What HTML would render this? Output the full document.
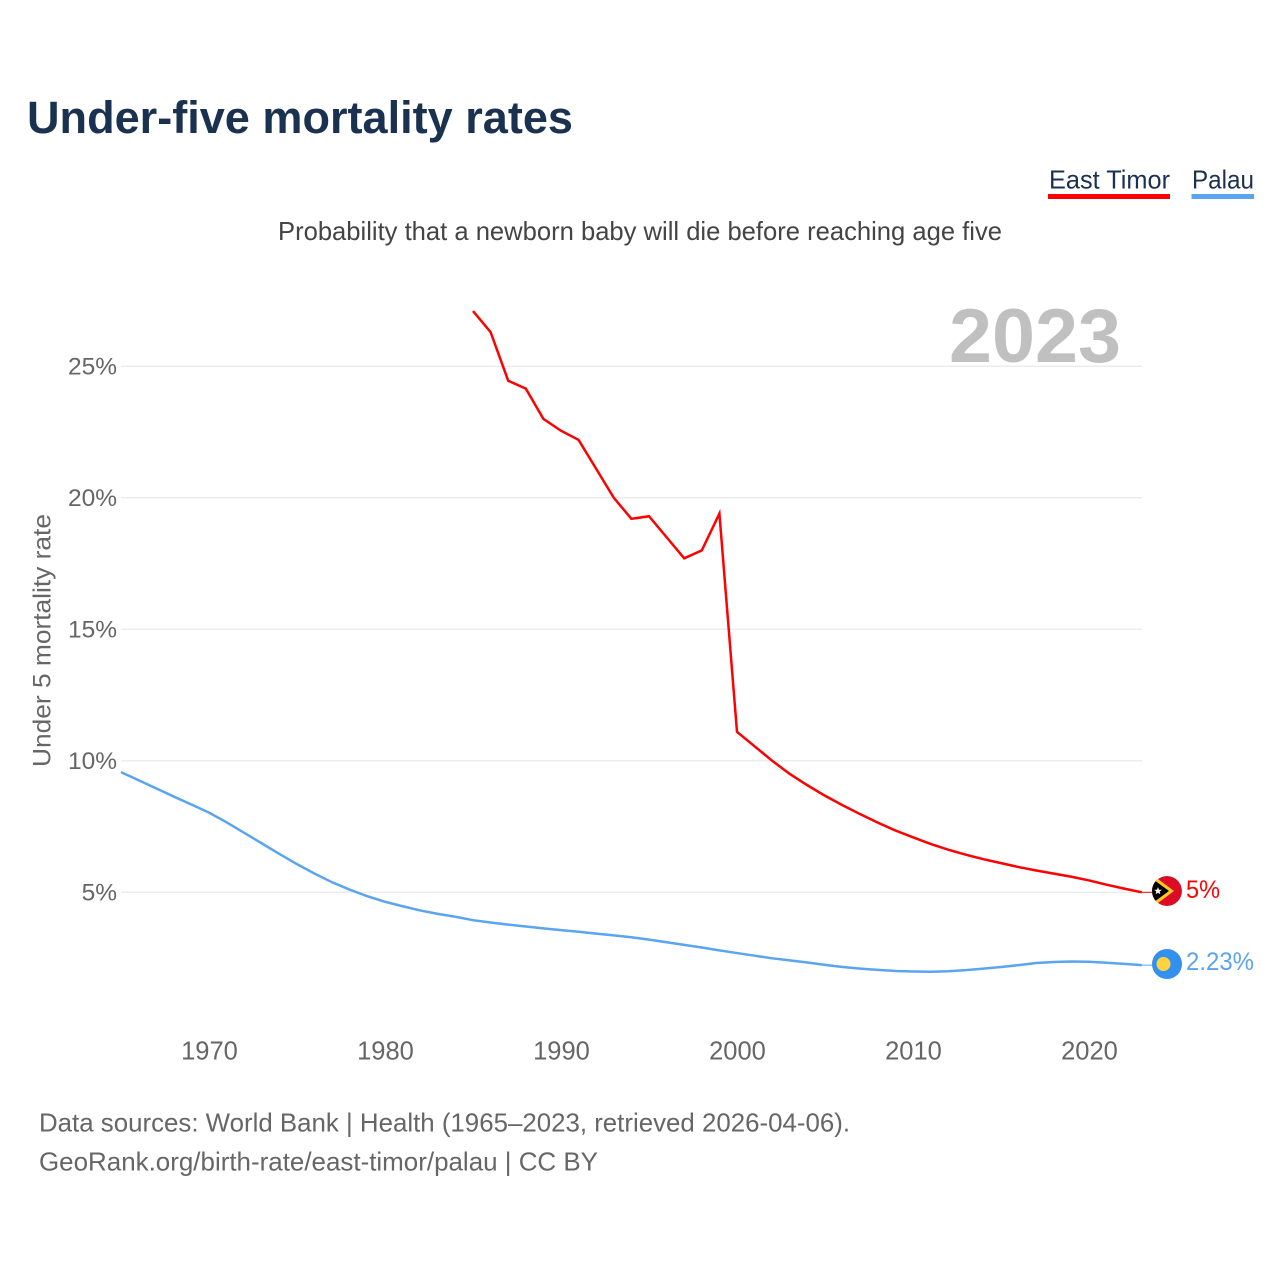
<!DOCTYPE html>
<html lang="en">
<head>
<meta charset="utf-8">
<title>Under-five mortality rates</title>
<style>
html,body{margin:0;padding:0;background:#fff;}
svg{display:block;font-family:"Liberation Sans",sans-serif;}
</style>
</head>
<body>
<svg id="chart" xmlns="http://www.w3.org/2000/svg" width="1280" height="1280" viewBox="0 0 1280 1280">
  <defs>
    <clipPath id="flag-clip"><circle cx="1167" cy="891" r="15"/></clipPath>
  </defs>
  <rect x="0" y="0" width="1280" height="1280" fill="#fff"/>
  <text x="27" y="133" font-size="45" font-weight="700" fill="#1a3150" textLength="546" lengthAdjust="spacingAndGlyphs">Under-five mortality rates</text>
  <text x="278" y="240" font-size="26" fill="#444" textLength="724" lengthAdjust="spacingAndGlyphs">Probability that a newborn baby will die before reaching age five</text>

  <g>
    <g>
      <text x="1049" y="188.5" font-size="26" fill="#1a3150" textLength="121" lengthAdjust="spacingAndGlyphs">East Timor</text>
      <rect x="1048" y="194" width="122" height="5" fill="#ff0000"/>
    </g>
    <g>
      <text x="1192" y="188.5" font-size="26" fill="#1a3150" textLength="62" lengthAdjust="spacingAndGlyphs">Palau</text>
      <rect x="1191.5" y="194" width="62.5" height="5" fill="#5ba4ee"/>
    </g>
  </g>

  <text x="949" y="362" font-size="76" font-weight="700" fill="#c0c0c0" textLength="172" lengthAdjust="spacingAndGlyphs">2023</text>

  <g id="grid"></g>
  <g id="y-axis"></g>
  <g id="x-axis"></g>
  <text transform="translate(50.5,767) rotate(-90)" font-size="25" fill="#666" textLength="253" lengthAdjust="spacingAndGlyphs">Under 5 mortality rate</text>
  <g id="series"></g>

  <g clip-path="url(#flag-clip)">
    <circle cx="1167" cy="891" r="15" fill="#dc0c24"/>
    <polygon points="1150,873 1174,891 1150,909" fill="#ffc726"/>
    <polygon points="1150,877 1169,891 1150,905" fill="#000"/>
    <polygon points="1158,887 1159,889.7 1161.8,889.8 1159.6,891.6 1160.4,894.3 1158,892.8 1155.6,894.3 1156.4,891.6 1154.2,889.8 1157,889.7" fill="#fff"/>
  </g>
  <g>
    <circle cx="1167" cy="964" r="15" fill="#3390ee"/>
    <circle cx="1163.5" cy="964" r="7" fill="#ffd23e"/>
  </g>
  <text x="1186" y="898" font-size="25" fill="#ff0000" textLength="34" lengthAdjust="spacingAndGlyphs">5%</text>
  <text x="1186" y="970" font-size="25" fill="#5ba4ee" textLength="68" lengthAdjust="spacingAndGlyphs">2.23%</text>

  <text x="39" y="1131.5" font-size="26" fill="#666" textLength="811" lengthAdjust="spacingAndGlyphs">Data sources: World Bank | Health (1965–2023, retrieved 2026-04-06).</text>
  <text x="39" y="1170.5" font-size="26" fill="#666" textLength="559" lengthAdjust="spacingAndGlyphs">GeoRank.org/birth-rate/east-timor/palau | CC BY</text>
</svg>
<script>
const yTicks = [5, 10, 15, 20, 25];
const xTicks = [1970, 1980, 1990, 2000, 2010, 2020];
const eastTimorYears = [1985,1986,1987,1988,1989,1990,1991,1992,1993,1994,1995,1996,1997,1998,1999,2000,2001,2002,2003,2004,2005,2006,2007,2008,2009,2010,2011,2012,2013,2014,2015,2016,2017,2018,2019,2020,2021,2022,2023];
const eastTimorValues = [27.1,26.3,24.45,24.15,23.0,22.55,22.2,21.1,20.0,19.2,19.3,18.5,17.7,18.0,19.4,11.1,10.55,10.0,9.5,9.07,8.67,8.31,7.97,7.65,7.35,7.09,6.84,6.62,6.43,6.26,6.11,5.96,5.83,5.71,5.59,5.45,5.29,5.14,5.0];
const palauYears = [1965,1966,1967,1968,1969,1970,1971,1972,1973,1974,1975,1976,1977,1978,1979,1980,1981,1982,1983,1984,1985,1986,1987,1988,1989,1990,1991,1992,1993,1994,1995,1996,1997,1998,1999,2000,2001,2002,2003,2004,2005,2006,2007,2008,2009,2010,2011,2012,2013,2014,2015,2016,2017,2018,2019,2020,2021,2022,2023];
const palauValues = [9.57,9.26,8.95,8.64,8.34,8.03,7.66,7.26,6.86,6.46,6.07,5.71,5.38,5.1,4.85,4.64,4.47,4.31,4.18,4.07,3.94,3.85,3.77,3.7,3.63,3.56,3.5,3.43,3.36,3.29,3.2,3.1,3.0,2.9,2.79,2.69,2.59,2.49,2.41,2.33,2.24,2.16,2.1,2.05,2.01,1.99,1.98,2.0,2.04,2.1,2.16,2.23,2.31,2.35,2.37,2.36,2.32,2.28,2.23];

const SVG_NS = 'http://www.w3.org/2000/svg';
function xScale(year) { return 209 + (year - 1970) * 17.6; }
function yScale(value) { return 1023.8 - value * 26.3; }
function make(tag, attrs) {
  const el = document.createElementNS(SVG_NS, tag);
  for (const k in attrs) el.setAttribute(k, attrs[k]);
  return el;
}
function linePoints(years, values) {
  return years.map(function (yr, i) { return xScale(yr).toFixed(2) + ',' + yScale(values[i]).toFixed(2); }).join(' ');
}

const grid = document.getElementById('grid');
const yAxis = document.getElementById('y-axis');
const xAxis = document.getElementById('x-axis');
const series = document.getElementById('series');

yTicks.forEach(function (t) {
  const line = make('line', { x1: 121.5, x2: 1142, y1: yScale(t), y2: yScale(t), stroke: '#ececec', 'stroke-width': 1.5 });
  
  
  grid.appendChild(line);
  const label = make('text', { x: 117, y: yScale(t) + 8.3, 'text-anchor': 'end', 'font-size': 24.5, fill: '#666' });
  
  
  label.textContent = t + '%';
  yAxis.appendChild(label);
});

xTicks.forEach(function (t) {
  const label = make('text', { x: xScale(t) + 0.5, y: 1059.5, 'text-anchor': 'middle', 'font-size': 25.5, fill: '#666' });
  
  
  label.textContent = t;
  xAxis.appendChild(label);
});

const connectorTimor = make('line', { x1: xScale(2023), x2: 1153, y1: yScale(5), y2: yScale(5), stroke: '#ff0000', 'stroke-width': 1 });


series.appendChild(connectorTimor);

const connectorPalau = make('line', { x1: xScale(2023), x2: 1153, y1: yScale(2.23), y2: yScale(2.23), stroke: '#5ba4ee', 'stroke-width': 1 });


series.appendChild(connectorPalau);

const palauLine = make('polyline', { points: linePoints(palauYears, palauValues), fill: 'none', stroke: '#5ba4ee', 'stroke-width': 2.5, 'stroke-linejoin': 'round' });


series.appendChild(palauLine);

const timorLine = make('polyline', { points: linePoints(eastTimorYears, eastTimorValues), fill: 'none', stroke: '#ff0000', 'stroke-width': 2.5, 'stroke-linejoin': 'miter' });


series.appendChild(timorLine);
</script>
</body>
</html>
